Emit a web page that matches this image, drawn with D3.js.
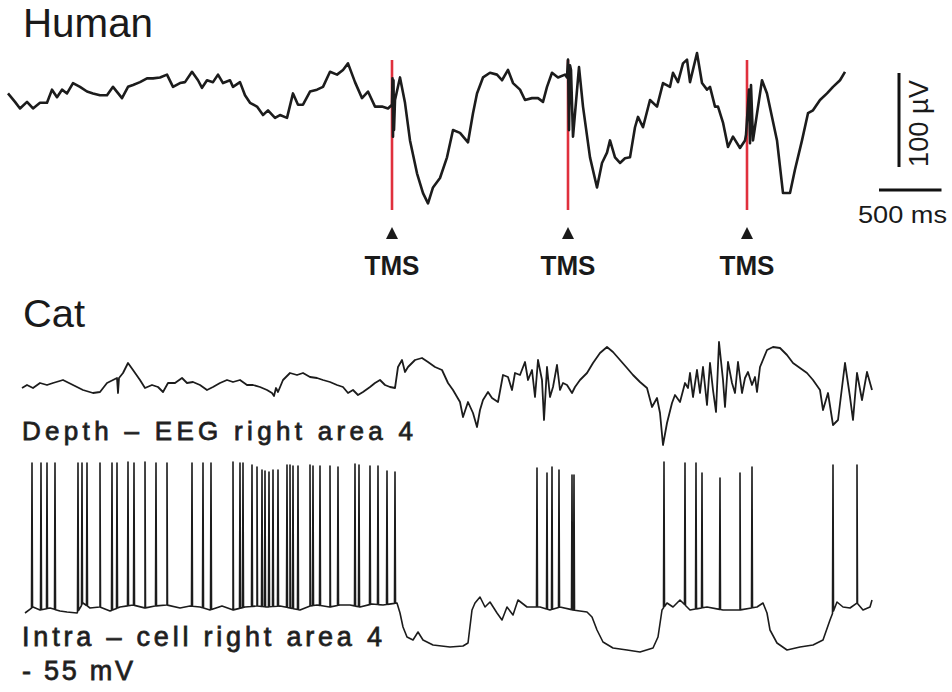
<!DOCTYPE html>
<html>
<head>
<meta charset="utf-8">
<script src="https://cdn.jsdelivr.net/npm/d3@7"></script>
<style>
  body { margin: 0; background: #fff; }
  svg { display: block; }
  text { font-family: "Liberation Sans", Arial, sans-serif; fill: #1a1a1a; }
</style>
</head>
<body>
<div id="chart"></div>
<script>
// ---- data ----
// Human scalp EEG: [time ms, amplitude µV]
const humanEEG = [
  [0,7],[56,-2],[96,-9],[152,-2],[200,-9],[256,-3],[312,-3],[352,11],[392,3],[432,11],
  [472,7],[520,18],[576,14],[632,9],[680,7],[736,5],[792,5],[840,14],[912,2],[960,14],
  [1000,16],[1056,19],[1112,23],[1160,23],[1216,24],[1272,27],[1320,14],[1376,18],[1416,19],[1472,30],
  [1520,21],[1552,13],[1592,21],[1640,19],[1680,27],[1720,18],[1776,21],[1800,14],[1856,19],[1896,5],
  [1936,-3],[1992,-7],[2040,-16],[2080,-11],[2136,-19],[2176,-16],[2232,-19],[2280,7],[2320,-5],[2360,-5],
  [2416,9],[2472,11],[2520,14],[2576,30],[2632,27],[2680,32],[2720,39],[2776,19],[2832,2],[2880,9],
  [2936,-7],[2992,-7],[3040,-9],[3072,-5],[3076,23],[3080,-39],[3084,21],[3088,-32],[3096,0],
  [3136,24],[3176,-3],[3216,-43],[3272,-78],[3320,-99],[3360,-110],[3400,-93],[3456,-83],[3512,-61],[3560,-32],
  [3616,-35],[3680,-45],[3720,-14],[3752,7],[3800,24],[3856,29],[3912,27],[3952,21],[4000,32],[4040,18],
  [4096,11],[4136,0],[4192,2],[4240,2],[4280,-2],[4312,14],[4352,29],[4400,24],[4456,27],
  [4472,24],[4480,43],[4488,-32],[4496,37],[4504,32],[4520,-39],[4568,35],
  [4600,-7],[4656,-61],[4712,-93],[4752,-67],[4792,-56],[4816,-43],[4856,-61],[4896,-67],[4936,-62],[4976,-61],
  [5016,-29],[5040,-18],[5080,-29],[5136,0],[5192,-7],[5240,18],[5296,14],[5320,29],[5360,19],[5400,39],
  [5432,43],[5456,19],[5512,50],[5552,18],[5592,11],[5616,14],[5656,-7],[5680,-7],[5720,-24],[5760,-50],
  [5800,-39],[5856,-51],[5896,-43],[5904,-37],[5928,11],[5936,-46],[5944,16],[5960,-43],[6032,21],
  [6072,7],[6112,-18],[6152,-43],[6200,-99],[6256,-99],[6296,-74],[6352,-43],[6400,-14],[6440,-11],[6496,0],
  [6552,7],[6600,14],[6656,21],[6696,30]
];
const tmsTimes = [3072, 4480, 5912];   // ms
const tmsLabels = ["TMS", "TMS", "TMS"];
const scaleBarMs = 500;
const scaleBarUv = 100;

// Cat depth EEG: [time ms, amplitude µV]
const catEEG = [
  [0,-6],[40,0],[88,-6],[144,4],[200,0],[248,4],[328,10],[408,0],[488,-10],[568,-16],
  [624,-14],[680,4],[728,10],[760,14],[768,-16],[776,14],[808,24],[848,44],[888,30],[944,10],
  [984,-6],[1040,0],[1088,-4],[1128,-14],[1168,4],[1224,4],[1280,14],[1320,4],[1368,6],[1424,0],
  [1480,-10],[1528,-4],[1584,4],[1640,10],[1688,6],[1744,10],[1800,0],[1848,0],[1904,-4],[1960,-10],
  [2000,-16],[2016,-22],[2032,-6],[2048,-14],[2088,10],[2144,24],[2200,20],[2248,24],[2304,16],[2360,14],
  [2408,10],[2464,6],[2520,0],[2568,-4],[2608,-16],[2648,-10],[2688,-20],[2728,-14],[2784,-4],[2824,4],
  [2864,10],[2904,0],[2944,-4],[2984,-6],[3008,36],[3040,50],[3064,26],[3088,36],[3144,50],[3200,54],
  [3248,46],[3304,36],[3360,30],[3408,4],[3448,-10],[3504,-34],[3528,-64],[3568,-34],[3608,-56],[3640,-84],
  [3664,-50],[3688,-30],[3728,-14],[3760,-26],[3808,-34],[3848,20],[3888,16],[3920,-10],[3944,24],[3984,20],
  [4024,46],[4048,10],[4080,30],[4104,-24],[4128,50],[4160,10],[4176,-70],[4200,36],[4224,-24],[4248,-4],
  [4280,40],[4304,-10],[4328,4],[4360,0],[4400,-16],[4424,-4],[4464,10],[4520,24],[4568,44],[4624,64],
  [4680,76],[4728,66],[4784,50],[4840,34],[4888,20],[4944,6],[5000,-6],[5040,-44],[5080,-26],[5104,-56],
  [5128,-120],[5160,-76],[5200,-36],[5224,-20],[5264,-34],[5304,4],[5328,-6],[5344,24],[5368,-24],[5400,30],
  [5424,-16],[5448,36],[5480,-40],[5504,44],[5528,-10],[5552,-54],[5576,86],[5608,10],[5624,-44],[5648,46],
  [5680,4],[5704,-16],[5728,46],[5760,-16],[5784,14],[5808,26],[5840,0],[5864,16],[5880,-14],[5904,36],
  [5960,70],[6008,76],[6064,74],[6120,60],[6168,44],[6224,34],[6280,24],[6328,10],[6384,-10],[6408,-50],
  [6448,-16],[6488,-80],[6528,-70],[6584,44],[6624,-24],[6648,-70],[6680,24],[6720,-30],[6760,26],[6800,-10]
];

// Cat intracellular membrane potential (sub-threshold): [time ms, mV]
const cellBase = [
  [24,-57.5],[88,-54.5],[144,-56],[224,-55],[304,-56.5],[360,-57],[440,-57.5],[488,-52.5],[544,-55],[624,-54.5],
  [704,-56.5],[784,-54.5],[888,-53.5],[984,-55],[1064,-54],[1160,-53.5],[1264,-55],[1344,-54],[1424,-54.5],[1504,-56],
  [1600,-54],[1688,-56],[1784,-54.5],[1880,-54],[1960,-54.5],[2064,-54],[2144,-55],[2224,-56],[2304,-54],[2360,-53.5],
  [2464,-54.5],[2544,-53.5],[2624,-53.5],[2704,-54.5],[2800,-53],[2888,-53.5],[3000,-52.5],[3024,-57.5],[3048,-64.5],[3080,-69.5],
  [3128,-71],[3168,-67],[3208,-71],[3288,-73.5],[3424,-74.5],[3528,-74],[3568,-72.5],[3600,-56],[3624,-52.5],[3664,-49.5],
  [3704,-54.5],[3744,-52],[3800,-57.5],[3840,-61],[3880,-54.5],[3928,-58.5],[3968,-51],[4040,-54.5],[4144,-54.5],[4224,-56],
  [4304,-54.5],[4408,-56],[4520,-57],[4560,-59.5],[4600,-66],[4648,-72],[4728,-75],[4840,-76],[4944,-77],[5048,-75],
  [5088,-69.5],[5120,-56],[5160,-52.5],[5208,-54.5],[5264,-51],[5344,-56],[5480,-54.5],[5608,-56],[5744,-56],[5880,-54.5],
  [5928,-52.5],[5960,-57.5],[5984,-66],[6040,-72.5],[6120,-76],[6224,-74.5],[6328,-73.5],[6408,-71],[6464,-61],[6520,-52],
  [6568,-54.5],[6624,-55],[6680,-52.5],[6728,-56],[6784,-54.5],[6800,-51]
];
// action potentials: [time ms, peak mV]
const cellSpikes = [
  [80,17.5],[152,17.5],[200,17.5],[264,17.5],[448,17.5],[480,17.5],[520,17.5],[624,17.5],[720,17.5],[760,17.5],
  [848,18],[896,17.5],[984,18],[1072,17.5],[1160,17.5],[1360,17.5],[1448,17.5],[1512,17.5],[1688,18],[1744,17.5],
  [1768,17.5],[1840,16.5],[1880,15.5],[1920,14],[1944,13.5],[1976,13],[2008,14],[2048,14],[2120,16.5],[2144,16.5],
  [2168,16],[2208,16],[2304,16.5],[2328,16],[2384,16],[2464,16],[2528,15.5],[2664,17],[2696,16.5],[2784,16],
  [2848,16],[2920,13.5],[2984,13],
  [4120,15],[4200,12.5],[4240,15.5],[4296,14],[4400,11.5],[4416,11.5],
  [5136,18],[5304,17.5],[5392,17.5],[5440,12.5],[5584,10],[5744,12.5],[5840,15.5],
  [6488,16.5],[6680,16.5]
];

const titles = ["Human", "Cat"];
const eegLabel = "Depth \u2013 EEG  right  area 4";
const cellLabel = "Intra \u2013 cell  right  area 4";
const cellLevel = "- 55 mV";

// ---- layout ----
const W = 952, H = 692;
const svg = d3.select("#chart").append("svg").attr("width", W).attr("height", H);

// human panel scales
const xH = d3.scaleLinear().domain([0, 6696]).range([8, 845]);
const yH = d3.scaleLinear().domain([0, 100]).range([100, 6]);
// cat panel scales
const xC = d3.scaleLinear().domain([0, 6800]).range([22, 872]);
const yEEG = d3.scaleLinear().domain([0, 100]).range([385, 335]);
const yCell = d3.scaleLinear().domain([-55, -5]).range([608, 508]);

const line = (xs, ys) => d3.line().x(d => xs(d[0])).y(d => ys(d[1])).curve(d3.curveLinear);

// titles
svg.append("text").attr("x", 23).attr("y", 37).attr("font-size", 40)
  .attr("textLength", 130).attr("lengthAdjust", "spacingAndGlyphs").text(titles[0]);
svg.append("text").attr("x", 23).attr("y", 327).attr("font-size", 38)
  .attr("textLength", 62).attr("lengthAdjust", "spacingAndGlyphs").text(titles[1]);

// TMS pulse markers
const tms = svg.append("g").selectAll("g").data(tmsTimes).join("g")
  .attr("transform", d => `translate(${xH(d)},0)`);
tms.append("line").attr("y1", 60).attr("y2", 210)
  .attr("stroke", "#e0303c").attr("stroke-width", 2.6);

// human trace
svg.append("path").datum(humanEEG)
  .attr("d", line(xH, yH))
  .attr("fill", "none").attr("stroke", "#1c1c1c")
  .attr("stroke-width", 2.6).attr("stroke-linejoin", "round");

tms.append("path").attr("d", "M0,227 L-6,239 L6,239 Z").attr("fill", "#1a1a1a");
tms.append("text").data(tmsLabels).attr("y", 275).attr("text-anchor", "middle")
  .attr("font-size", 28).attr("font-weight", "bold")
  .attr("textLength", 55).attr("lengthAdjust", "spacingAndGlyphs").text(d => d);

// scale bars
const sbX0 = 879, sbY = 190, sbVx = 899, sbVy = 167;
svg.append("line").attr("x1", sbX0).attr("x2", sbX0 + xH(scaleBarMs) - xH(0))
  .attr("y1", sbY).attr("y2", sbY).attr("stroke", "#111").attr("stroke-width", 3);
svg.append("line").attr("x1", sbVx).attr("x2", sbVx)
  .attr("y1", sbVy).attr("y2", sbVy - (yH(0) - yH(scaleBarUv)))
  .attr("stroke", "#111").attr("stroke-width", 3);
svg.append("text").attr("x", 858).attr("y", 223).attr("font-size", 24)
  .attr("textLength", 89).attr("lengthAdjust", "spacingAndGlyphs").text(`${scaleBarMs} ms`);
svg.append("text").attr("transform", "translate(928,167) rotate(-90)").attr("font-size", 27)
  .attr("textLength", 87).attr("lengthAdjust", "spacingAndGlyphs").text(`${scaleBarUv} \u00b5V`);

// cat EEG
svg.append("path").datum(catEEG)
  .attr("d", line(xC, yEEG))
  .attr("fill", "none").attr("stroke", "#1c1c1c")
  .attr("stroke-width", 1.8).attr("stroke-linejoin", "round");

// intracellular: merge spikes into the membrane trace
const bis = d3.bisector(d => d[0]).left;
const baseAt = t => {
  const i = Math.max(1, Math.min(cellBase.length - 1, bis(cellBase, t)));
  const a = cellBase[i - 1], b = cellBase[i];
  return d3.interpolateNumber(a[1], b[1])((t - a[0]) / (b[0] - a[0]));
};
const cellTrace = cellBase.concat(
  cellSpikes.flatMap(([t, v]) => [[t - 4, baseAt(t - 4)], [t, v], [t + 4, baseAt(t + 4)]])
).sort((a, b) => a[0] - b[0]);

svg.append("path").datum(cellTrace)
  .attr("d", line(xC, yCell))
  .attr("fill", "none").attr("stroke", "#1c1c1c")
  .attr("stroke-width", 1.6).attr("stroke-linejoin", "round");

// cat labels (spaced, medium weight)
const catLabel = (y, size, len, txt) => svg.append("text")
  .attr("x", 22).attr("y", y).attr("font-size", size)
  .attr("fill", "#2a2a2a").attr("stroke", "#2a2a2a").attr("stroke-width", 0.8)
  .attr("textLength", len).attr("lengthAdjust", "spacing").text(txt);
catLabel(440, 26, 391, eegLabel);
catLabel(646, 27, 360, cellLabel);
catLabel(680, 27, 111, cellLevel);
</script>
</body>
</html>
